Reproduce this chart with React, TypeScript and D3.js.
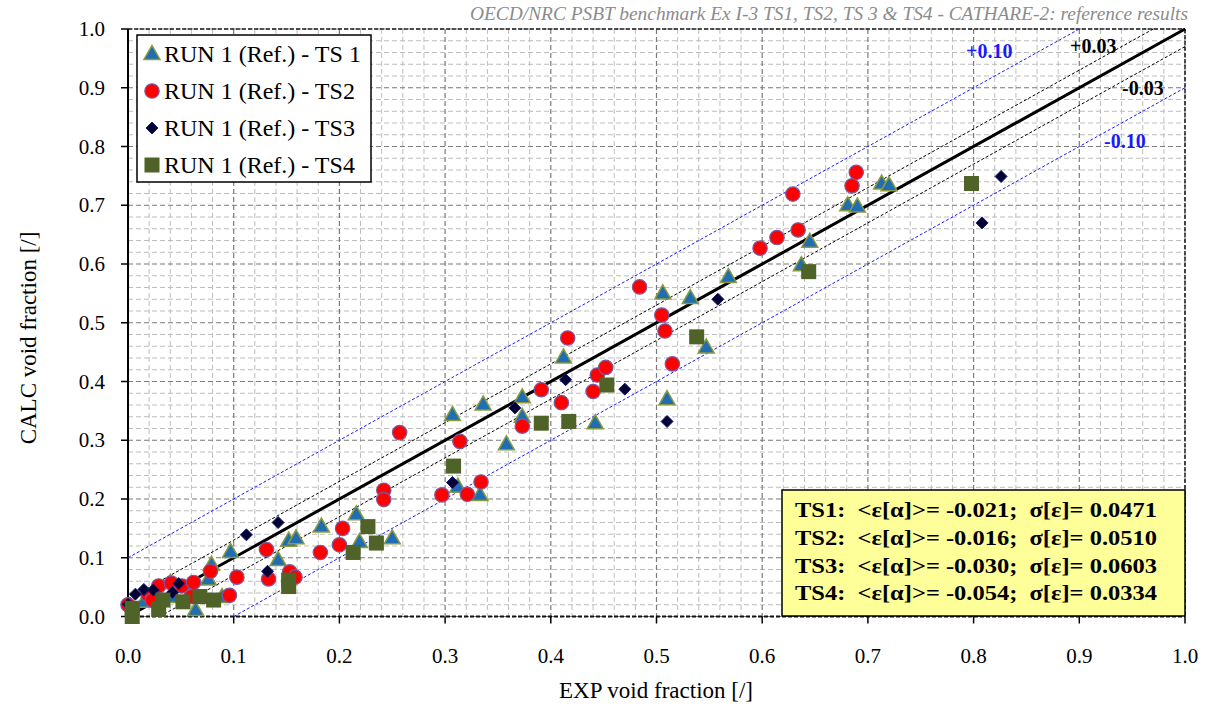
import React from "react";
import * as d3 from "d3";

type P = [number, number];

const ts1: P[] = [
  [0.015, 0.025], [0.040, 0.057], [0.044, 0.033], [0.064, 0.011], [0.076, 0.063],
  [0.079, 0.088], [0.089, 0.033], [0.097, 0.110], [0.142, 0.096], [0.152, 0.129],
  [0.159, 0.133], [0.183, 0.153], [0.216, 0.174], [0.219, 0.127], [0.250, 0.133],
  [0.307, 0.343], [0.312, 0.221], [0.333, 0.207], [0.336, 0.361], [0.358, 0.293],
  [0.373, 0.373], [0.373, 0.340], [0.412, 0.441], [0.442, 0.329], [0.506, 0.550],
  [0.510, 0.370], [0.532, 0.542], [0.547, 0.458], [0.568, 0.578], [0.637, 0.598],
  [0.645, 0.638], [0.681, 0.700], [0.690, 0.698], [0.713, 0.737], [0.720, 0.734],
];

const ts2: P[] = [
  [0.000, 0.020], [0.019, 0.037], [0.023, 0.028], [0.029, 0.052], [0.041, 0.057],
  [0.051, 0.052], [0.060, 0.034], [0.062, 0.058], [0.078, 0.077], [0.096, 0.036],
  [0.103, 0.067], [0.131, 0.114], [0.133, 0.064], [0.153, 0.076], [0.158, 0.067],
  [0.182, 0.109], [0.200, 0.122], [0.203, 0.150], [0.242, 0.215], [0.242, 0.199],
  [0.257, 0.313], [0.297, 0.207], [0.314, 0.298], [0.321, 0.208], [0.334, 0.229],
  [0.373, 0.324], [0.391, 0.386], [0.410, 0.364], [0.416, 0.474], [0.440, 0.383],
  [0.444, 0.411], [0.452, 0.424], [0.484, 0.561], [0.505, 0.513], [0.508, 0.486],
  [0.515, 0.430], [0.598, 0.627], [0.614, 0.645], [0.629, 0.719], [0.634, 0.658],
  [0.685, 0.733], [0.689, 0.756],
];

const ts3: P[] = [
  [0.000, 0.021], [0.007, 0.038], [0.015, 0.046], [0.024, 0.045], [0.042, 0.041],
  [0.048, 0.056], [0.112, 0.139], [0.132, 0.077], [0.142, 0.160], [0.307, 0.228],
  [0.366, 0.355], [0.414, 0.403], [0.470, 0.387], [0.510, 0.332], [0.558, 0.540],
  [0.808, 0.670], [0.826, 0.749],
];

const ts4: P[] = [
  [0.004, 0.000], [0.004, 0.014], [0.029, 0.012], [0.033, 0.028], [0.052, 0.025],
  [0.068, 0.034], [0.081, 0.028], [0.152, 0.051], [0.152, 0.062], [0.213, 0.109],
  [0.227, 0.153], [0.235, 0.125], [0.308, 0.256], [0.391, 0.329], [0.417, 0.332],
  [0.453, 0.394], [0.538, 0.476], [0.644, 0.587], [0.798, 0.737],
];

const legendLabels = [
  "RUN 1 (Ref.) - TS 1",
  "RUN 1 (Ref.) - TS2",
  "RUN 1 (Ref.) - TS3",
  "RUN 1 (Ref.) - TS4",
];

const statsLines = [
  "TS1:  <ε[α]>= -0.021;  σ[ε]= 0.0471",
  "TS2:  <ε[α]>= -0.016;  σ[ε]= 0.0510",
  "TS3:  <ε[α]>= -0.030;  σ[ε]= 0.0603",
  "TS4:  <ε[α]>= -0.054;  σ[ε]= 0.0334",
];

const tickValues = d3.range(0, 11).map((i) => i / 10);
const minorValues = d3.range(0, 51).map((i) => i / 50);
const bandOffsets = [0.1, 0.03, -0.03, -0.1];

const title =
  "OECD/NRC PSBT benchmark Ex I-3 TS1, TS2, TS 3 & TS4 - CATHARE-2: reference results";

const FONT = "'Liberation Serif', 'Times New Roman', serif";

const L = 128, R = 1185, T = 29, B = 616.5;

function Marker({ kind, x, y }: { kind: number; x: number; y: number }) {
  if (kind === 0)
    return (
      <path
        d={`M${x},${y - 8.5}L${x + 8},${y + 5.5}L${x - 8},${y + 5.5}Z`}
        fill="#1f6db3"
        stroke="#8a9a3c"
        strokeWidth={1.5}
      />
    );
  if (kind === 1)
    return <circle cx={x} cy={y} r={7.2} fill="#ff0000" stroke="#7a5aa0" strokeWidth={1.2} />;
  if (kind === 2)
    return (
      <path
        d={`M${x},${y - 6}L${x + 6},${y}L${x},${y + 6}L${x - 6},${y}Z`}
        fill="#000033"
        stroke="#1a1a70"
        strokeWidth={1}
      />
    );
  return <rect x={x - 7.5} y={y - 7.5} width={15} height={15} fill="#4f6228" />;
}

export default function App() {
  const xs = d3.scaleLinear().domain([0, 1]).range([L, R]);
  const ys = d3.scaleLinear().domain([0, 1]).range([B, T]);
  const series = [ts1, ts2, ts3, ts4];
  const line = d3
    .line<P>()
    .x((d) => xs(d[0]))
    .y((d) => ys(d[1]));

  const bandSeg = (off: number): P[] =>
    off >= 0 ? [[0, off], [1 - off, 1]] : [[-off, 0], [1, 1 + off]];

  return (
    <svg
      width={1216}
      height={719}
      style={{ position: "absolute", left: 0, top: 0, background: "#fff" }}
      fontFamily={FONT}
    >
      <rect x={0} y={0} width={1216} height={719} fill="#fff" />
      {/* minor grid */}
      {minorValues.map((v, i) =>
        i % 5 === 0 ? null : (
          <g key={"mg" + i}>
            <line x1={xs(v)} x2={xs(v)} y1={T} y2={B} stroke="#bdbdbd" strokeDasharray="5,3" strokeWidth={1} />
            <line x1={L} x2={R} y1={ys(v)} y2={ys(v)} stroke="#bdbdbd" strokeDasharray="5,3" strokeWidth={1} />
          </g>
        )
      )}
      {/* major grid */}
      {tickValues.map((v, i) => (
        <g key={"Mg" + i}>
          <line x1={xs(v)} x2={xs(v)} y1={T} y2={B} stroke="#7a7a7a" strokeDasharray="5,3" strokeWidth={1.2} />
          <line x1={L} x2={R} y1={ys(v)} y2={ys(v)} stroke="#7a7a7a" strokeDasharray="5,3" strokeWidth={1.2} />
        </g>
      ))}
      {/* border */}
      <line x1={L} x2={R} y1={T} y2={T} stroke="#222" strokeDasharray="4,2" strokeWidth={1.5} />
      <line x1={R} x2={R} y1={T} y2={B} stroke="#222" strokeDasharray="4,2" strokeWidth={1.5} />
      <line x1={L} x2={R} y1={B} y2={B} stroke="#111" strokeDasharray="4,2" strokeWidth={2} />
      <line x1={L} x2={L} y1={T} y2={B} stroke="#000" strokeWidth={2} />
      {/* ticks */}
      {tickValues.map((v, i) => (
        <g key={"t" + i}>
          <line x1={L - 7} x2={L} y1={ys(v)} y2={ys(v)} stroke="#000" strokeWidth={1.5} />
          <line x1={xs(v)} x2={xs(v)} y1={B} y2={B + 7} stroke="#000" strokeWidth={1.5} />
          <text x={L - 23} y={ys(v) + 7} fontSize={21} textAnchor="end" fill="#000">
            {v.toFixed(1)}
          </text>
          <text x={xs(v)} y={B + 46} fontSize={21} textAnchor="middle" fill="#000">
            {v.toFixed(1)}
          </text>
        </g>
      ))}
      {/* reference lines */}
      {bandOffsets.map((off, i) => (
        <path
          key={"b" + i}
          d={line(bandSeg(off)) || ""}
          fill="none"
          stroke={Math.abs(off) > 0.05 ? "#1a1aff" : "#000"}
          strokeWidth={1}
          strokeDasharray="3,2"
        />
      ))}
      <path d={line([[0, 0], [1, 1]]) || ""} fill="none" stroke="#000" strokeWidth={3} />
      {/* band labels */}
      <text x={966} y={58} fontSize={20} fontWeight="bold" fill="#1a1aff">+0.10</text>
      <text x={1070} y={53} fontSize={20} fontWeight="bold" fill="#000">+0.03</text>
      <text x={1122} y={95} fontSize={20} fontWeight="bold" fill="#000">-0.03</text>
      <text x={1104} y={148} fontSize={20} fontWeight="bold" fill="#1a1aff">-0.10</text>
      {/* points */}
      {series.map((s, k) => (
        <g key={"s" + k}>
          {s.map((d, i) => (
            <Marker key={i} kind={k} x={xs(d[0])} y={ys(d[1])} />
          ))}
        </g>
      ))}
      {/* legend */}
      <rect x={137} y={35} width={234} height={147} fill="#fff" stroke="#000" strokeWidth={1.5} />
      {legendLabels.map((lab, i) => {
        const cy = 54 + i * 37;
        return (
          <g key={"l" + i}>
            <Marker kind={i} x={152} y={cy} />
            <text x={164} y={cy + 8} fontSize={24} fill="#000">
              {lab}
            </text>
          </g>
        );
      })}
      {/* stats box */}
      <rect x={782} y={490} width={403} height={126} fill="#ffff99" stroke="#000" strokeWidth={1.5} />
      {statsLines.map((s, i) => (
        <text
          key={"st" + i}
          x={795}
          y={517 + i * 27.8}
          fontSize={21}
          fontWeight="bold"
          fill="#000"
          textLength={362}
          lengthAdjust="spacingAndGlyphs"
          style={{ whiteSpace: "pre" }}
          xmlSpace="preserve"
        >
          {s}
        </text>
      ))}
      {/* title & axis titles */}
      <text
        x={470}
        y={20}
        fontSize={18}
        fontStyle="italic"
        fill="#8c8c8c"
        textLength={718}
        lengthAdjust="spacingAndGlyphs"
      >
        {title}
      </text>
      <text x={656} y={698} fontSize={23} textAnchor="middle" fill="#000">
        EXP void fraction [/]
      </text>
      <text
        transform={`translate(36,338) rotate(-90)`}
        fontSize={23}
        textAnchor="middle"
        fill="#000"
      >
        CALC void fraction [/]
      </text>
    </svg>
  );
}
